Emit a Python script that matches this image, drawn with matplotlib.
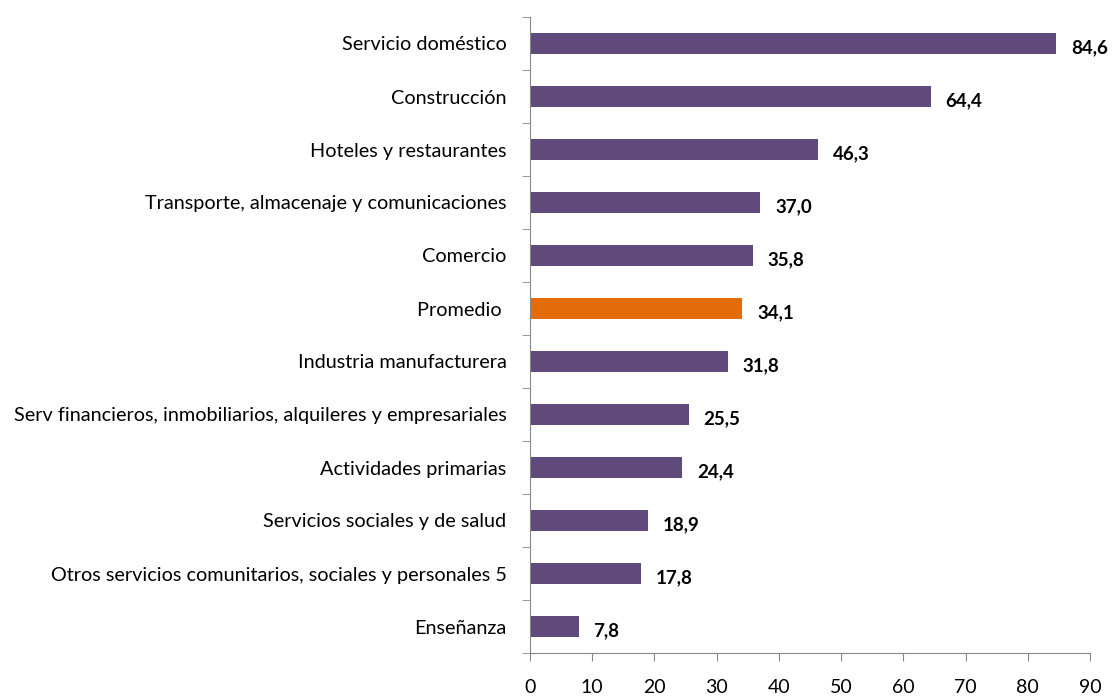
import matplotlib.pyplot as plt
import numpy as np

categories = [
    "Servicio doméstico",
    "Construcción",
    "Hoteles y restaurantes",
    "Transporte, almacenaje y comunicaciones",
    "Comercio",
    "Promedio ",
    "Industria manufacturera",
    "Serv financieros, inmobiliarios, alquileres y empresariales",
    "Actividades primarias",
    "Servicios sociales y de salud",
    "Otros servicios comunitarios, sociales y personales 5",
    "Enseñanza",
]
values = [84.6, 64.4, 46.3, 37.0, 35.8, 34.1, 31.8, 25.5, 24.4, 18.9, 17.8, 7.8]
highlight = "Promedio "

plt.rcParams['font.family'] = ['Lato', 'DejaVu Sans']

fig = plt.figure(figsize=(11.16, 6.98), dpi=100)
ax = fig.add_axes([530 / 1116, 45 / 698, 560 / 1116, 636 / 698])

y = np.arange(len(categories))
colors = ["#E36C09" if c == highlight else "#604A7B" for c in categories]
ax.barh(y, values, height=0.4, color=colors)

for yi, v in zip(y, values):
    ax.text(v + 2.4, yi + 0.08, f"{v:.1f}".replace(".", ","), va="center", ha="left",
            fontsize=13.5, fontweight="bold")

ax.set_ylim(len(categories) - 0.5, -0.5)
ax.set_xlim(0, 90)
ax.set_yticks(y)
ax.set_yticklabels(categories, fontsize=14.3)
ax.set_yticks(np.arange(-0.5, len(categories), 1), minor=True)
ax.tick_params(axis="y", which="major", length=0, pad=17)
ax.tick_params(axis="y", which="minor", length=6, color="#868686", direction="out")
ax.set_xticks(np.arange(0, 91, 10))
ax.tick_params(axis="x", length=6, color="#868686", direction="out", pad=13, labelsize=14)

for s in ["top", "right"]:
    ax.spines[s].set_visible(False)
for s in ["left", "bottom"]:
    ax.spines[s].set_color("#868686")

fig.savefig("out.png", dpi=100)
